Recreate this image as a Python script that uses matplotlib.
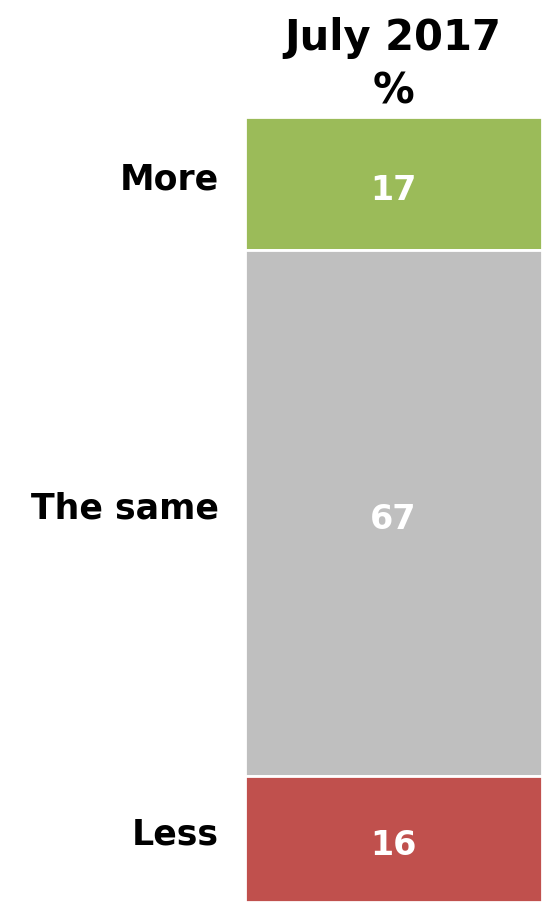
import matplotlib.pyplot as plt
import matplotlib.transforms as mtransforms

categories = ['More', 'The same', 'Less']
values = [17, 67, 16]
colours = ['#9BBB59', '#BFBFBF', '#C0504D']
title_lines = ['July 2017', '%']

W, H = 542, 902
fig = plt.figure(figsize=(W / 100, H / 100), dpi=100)
ax = fig.add_axes([245 / W, 0, 1 - 245 / W, 785 / H])

bottom = 0
centres = []
for value, colour in zip(values, colours):
    ax.bar(0, value, bottom=bottom, width=1, color=colour,
           edgecolor='white', linewidth=2)
    centres.append(bottom + value / 2)
    ax.text(0, bottom + value / 2 + 0.8, str(value), ha='center', va='center',
            color='white', fontsize=24, fontweight='bold')
    bottom += value

ax.set_xlim(-0.5, 0.5)
ax.set_ylim(100, 0)
ax.set_yticks(centres)
ax.set_yticklabels(categories, fontsize=25, fontweight='bold')
ax.tick_params(axis='y', length=0, pad=19)
ax.set_xticks([])
for spine in ax.spines.values():
    spine.set_visible(False)

# category labels sit a little above the segment centres
lift = mtransforms.ScaledTranslation(0, 8 / 100, fig.dpi_scale_trans)
for lbl in ax.get_yticklabels():
    lbl.set_transform(lbl.get_transform() + lift)

# column header above the bar
cx = 393 / W
fig.text(cx, 1 - 50 / H, title_lines[0], ha='center', va='baseline',
         fontsize=30, fontweight='bold')
fig.text(cx, 1 - 103 / H, title_lines[1], ha='center', va='baseline',
         fontsize=30, fontweight='bold')

fig.savefig('out.png', dpi=100)
